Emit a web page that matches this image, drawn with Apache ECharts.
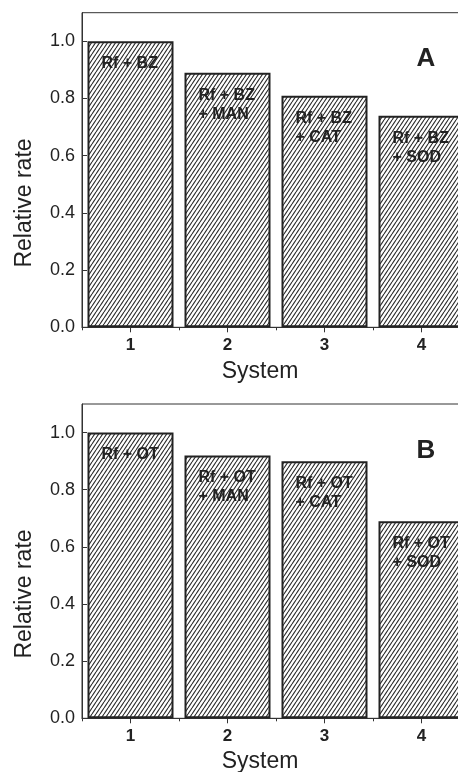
<!DOCTYPE html>
<html>
<head>
<meta charset="utf-8">
<script src="https://cdn.jsdelivr.net/npm/echarts@6/dist/echarts.min.js"></script>
<style>
html,body{margin:0;padding:0;background:#fff;}
#chart{width:458px;height:772px;}
</style>
</head>
<body>
<div id="chart"></div>
<script>
// ---- data ----
var categories = ['1', '2', '3', '4'];
var ratesA = [1.00, 0.89, 0.81, 0.74];
var ratesB = [1.00, 0.92, 0.90, 0.69];
var labelsA = ['Rf + BZ', 'Rf + BZ\n+ MAN', 'Rf + BZ\n+ CAT', 'Rf + BZ\n+ SOD'];
var labelsB = ['Rf + OT', 'Rf + OT\n+ MAN', 'Rf + OT\n+ CAT', 'Rf + OT\n+ SOD'];
var panelLetters = ['A', 'B'];
var xTitle = 'System';
var yTitle = 'Relative rate';

// ---- hatch pattern ----
function makeHatch() {
  var c = document.createElement('canvas');
  c.width = 4; c.height = 6;
  var ctx = c.getContext('2d');
  ctx.fillStyle = '#ffffff';
  ctx.fillRect(0, 0, 4, 6);
  ctx.strokeStyle = '#2a2a2a';
  ctx.lineWidth = 1.1;
  [-4, 0, 4].forEach(function (dx) {
    ctx.beginPath();
    ctx.moveTo(dx, 6);
    ctx.lineTo(dx + 4, 0);
    ctx.stroke();
  });
  return c;
}
var hatch = makeHatch();

var FONT = "'Liberation Sans', Arial, sans-serif";
var TXT = '#222';

var grids = [
  {left: 82, top: 12.7, width: 388, height: 314.6},
  {left: 82, top: 404, width: 388, height: 314.3}
];

function mainX(gi) {
  return {
    type: 'category', gridIndex: gi, data: categories, position: 'bottom',
    axisLine: {show: true, lineStyle: {color: '#333', width: 1}},
    axisTick: {show: true, alignWithLabel: true, length: 5, lineStyle: {color: '#333'}},
    axisLabel: {show: true, margin: 10, fontSize: 17, fontWeight: 'bold', color: TXT, fontFamily: FONT},
    splitLine: {show: false}
  };
}
function minorX(gi) {
  return {
    type: 'category', gridIndex: gi, data: categories, position: 'bottom',
    axisLine: {show: false},
    axisTick: {show: true, length: 3, lineStyle: {color: '#333'}},
    axisLabel: {show: false},
    splitLine: {show: false}
  };
}
function yAx(gi) {
  return {
    type: 'value', gridIndex: gi, min: 0, max: 1.1, interval: 0.2,
    axisLine: {show: true, lineStyle: {color: '#333', width: 1}},
    axisTick: {show: true, inside: true, length: 5, lineStyle: {color: '#333'}},
    axisLabel: {margin: 7, fontSize: 18, color: TXT, fontFamily: FONT, showMaxLabel: false,
      formatter: function (v) { return v.toFixed(1); }},
    splitLine: {show: false}
  };
}
function barSeries(xi, yi, values, labels) {
  return {
    type: 'bar', xAxisIndex: xi, yAxisIndex: yi,
    data: values, barWidth: 86,
    itemStyle: {color: {image: hatch, repeat: 'repeat'}, borderColor: '#222', borderWidth: 2},
    label: {
      show: true, position: 'insideTop', distance: 13, align: 'left', offset: [-29, 0],
      fontSize: 16, fontWeight: 'bold', color: TXT, fontFamily: FONT, lineHeight: 19,
      formatter: function (p) { return labels[p.dataIndex]; }
    },
    silent: true, animation: false
  };
}

var option = {
  animation: false,
  backgroundColor: '#fff',
  grid: grids.map(function (g) {
    return Object.assign({show: true, borderColor: '#333', borderWidth: 1, backgroundColor: 'transparent',
      containLabel: false, outerBoundsMode: 'none'}, g);
  }),
  xAxis: [mainX(0), minorX(0), mainX(1), minorX(1)],
  yAxis: [yAx(0), yAx(1)],
  series: [
    barSeries(0, 0, ratesA, labelsA),
    barSeries(2, 1, ratesB, labelsB)
  ],
  graphic: [
    {type: 'text', x: 25, y: 203, rotation: Math.PI / 2,
      style: {text: yTitle, font: '23px ' + FONT, fill: TXT, align: 'center', verticalAlign: 'middle'}},
    {type: 'text', x: 25, y: 594, rotation: Math.PI / 2,
      style: {text: yTitle, font: '23px ' + FONT, fill: TXT, align: 'center', verticalAlign: 'middle'}},
    {type: 'text', x: 260, y: 372,
      style: {text: xTitle, font: '23px ' + FONT, fill: TXT, align: 'center', verticalAlign: 'middle'}},
    {type: 'text', x: 260, y: 762,
      style: {text: xTitle, font: '23px ' + FONT, fill: TXT, align: 'center', verticalAlign: 'middle'}},
    {type: 'text', x: 426, y: 59,
      style: {text: panelLetters[0], font: 'bold 26px ' + FONT, fill: TXT, align: 'center', verticalAlign: 'middle'}},
    {type: 'text', x: 426, y: 451,
      style: {text: panelLetters[1], font: 'bold 26px ' + FONT, fill: TXT, align: 'center', verticalAlign: 'middle'}}
  ]
};

var chart = echarts.init(document.getElementById('chart'), null, {renderer: 'canvas'});
chart.setOption(option);
</script>
</body>
</html>
